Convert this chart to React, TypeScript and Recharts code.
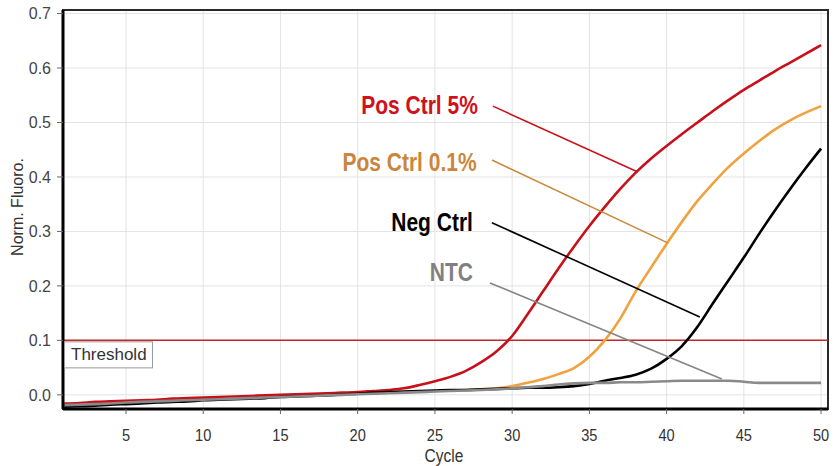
import React from 'react';
import {
  LineChart,
  Line,
  XAxis,
  YAxis,
  CartesianGrid,
  ReferenceLine,
  ReferenceDot,
  ReferenceArea,
} from 'recharts';

const cycles = [
  1, 2, 3, 4, 5, 6, 7, 8, 9, 10, 11, 12, 13, 14, 15, 16, 17, 18, 19, 20, 21, 22, 23, 24, 25,
  26, 27, 28, 29, 30, 31, 32, 33, 34, 35, 36, 37, 38, 39, 40, 41, 42, 43, 44, 45, 46, 47, 48, 49, 50,
];

const posCtrl5 = [
  -0.016, -0.015, -0.013, -0.012, -0.011, -0.01, -0.009, -0.007, -0.006, -0.005,
  -0.004, -0.003, -0.002, -0.001, 0.0, 0.001, 0.002, 0.003, 0.004, 0.005,
  0.007, 0.009, 0.012, 0.018, 0.025, 0.033, 0.044, 0.06, 0.08, 0.108,
  0.148, 0.19, 0.232, 0.272, 0.31, 0.345, 0.378, 0.408, 0.434, 0.457,
  0.479, 0.5, 0.521, 0.541, 0.56, 0.577, 0.594, 0.61, 0.626, 0.642,
];

const posCtrl01 = [
  -0.018, -0.017, -0.016, -0.014, -0.013, -0.012, -0.011, -0.01, -0.009, -0.008,
  -0.007, -0.006, -0.005, -0.004, -0.003, -0.002, -0.001, 0.0, 0.001, 0.002,
  0.003, 0.004, 0.005, 0.006, 0.007, 0.008, 0.009, 0.01, 0.012, 0.016,
  0.022, 0.029, 0.038, 0.049, 0.07, 0.1, 0.14, 0.19, 0.234, 0.277,
  0.318, 0.356, 0.388, 0.418, 0.443, 0.466, 0.487, 0.504, 0.518, 0.53,
];

const negCtrl = [
  -0.022, -0.021, -0.02, -0.018, -0.017, -0.016, -0.014, -0.013, -0.012, -0.01,
  -0.009, -0.008, -0.007, -0.006, -0.004, -0.003, -0.002, -0.001, 0.001, 0.002,
  0.004, 0.005, 0.006, 0.007, 0.008, 0.009, 0.009, 0.01, 0.011, 0.012,
  0.013, 0.013, 0.014, 0.016, 0.02, 0.026, 0.031, 0.037, 0.048, 0.066,
  0.09, 0.125, 0.168, 0.21, 0.252, 0.296, 0.338, 0.378, 0.416, 0.452,
];

const ntc = [
  -0.019, -0.018, -0.017, -0.016, -0.014, -0.013, -0.012, -0.011, -0.01, -0.009,
  -0.008, -0.007, -0.006, -0.005, -0.004, -0.003, -0.002, -0.001, 0.0, 0.001,
  0.002, 0.003, 0.004, 0.005, 0.006, 0.007, 0.008, 0.009, 0.01, 0.012,
  0.014, 0.016, 0.019, 0.021, 0.022, 0.022, 0.023, 0.023, 0.024, 0.025,
  0.026, 0.026, 0.026, 0.026, 0.024, 0.022, 0.022, 0.022, 0.022, 0.022,
];

const xTicks = [5, 10, 15, 20, 25, 30, 35, 40, 45, 50];
const yTicks = [0, 0.1, 0.2, 0.3, 0.4, 0.5, 0.6, 0.7];
const xDomain = [0.92, 50.45];
const yDomain = [-0.026, 0.7065];
const threshold = 0.1;

const annotationNames = ['Pos Ctrl 5%', 'Pos Ctrl 0.1%', 'Neg Ctrl', 'NTC'];
const annotationAnchors = [
  { x: 27.78, y: 0.532 },
  { x: 27.7, y: 0.4275 },
  { x: 27.46, y: 0.3174 },
  { x: 27.46, y: 0.2257 },
];
const leaderSegments = [
  [{ x: 28.75, y: 0.53 }, { x: 38.14, y: 0.409 }],
  [{ x: 28.69, y: 0.431 }, { x: 40.08, y: 0.279 }],
  [{ x: 28.69, y: 0.316 }, { x: 42.15, y: 0.143 }],
  [{ x: 28.56, y: 0.2055 }, { x: 43.58, y: 0.029 }],
];
const labelColors = ['#d0101a', '#c9863c', '#000000', '#808080'];
const leaderColors = ['#c8141c', '#c98a3c', '#000000', '#858585'];

const data = cycles.map((c, i) => ({
  cycle: c,
  pos5: posCtrl5[i],
  pos01: posCtrl01[i],
  neg: negCtrl[i],
  ntc: ntc[i],
}));

const FONT = "'Liberation Sans', Arial, sans-serif";

const XTick = (props: any) => {
  const { x, payload } = props;
  return (
    <text
      transform={`translate(${x},441) scale(0.86,1)`}
      textAnchor="middle"
      fontSize={17}
      fill="#333"
      fontFamily={FONT}
    >
      {payload.value}
    </text>
  );
};

const makeAnnotation = (text: string, color: string) => (props: any) => {
  const vb = props.viewBox || {};
  const x = vb.x ?? 0;
  const y = vb.y ?? 0;
  return (
    <text
      transform={`translate(${x},${y + 9}) scale(0.84,1)`}
      textAnchor="end"
      fontSize={25}
      fontWeight="bold"
      fill={color}
      fontFamily={FONT}
    >
      {text}
    </text>
  );
};

const ThresholdLabel = (props: any) => {
  const vb = props.viewBox || {};
  const x = vb.x ?? 0;
  const y = vb.y ?? 0;
  return (
    <g>
      <rect x={x + 1.5} y={y + 1.5} width={88} height={26} fill="#fff" stroke="#9a9a9a" strokeWidth={1} />
      <text x={x + 8} y={y + 20} fontSize={17} fill="#333" fontFamily={FONT}>
        Threshold
      </text>
    </g>
  );
};

const YTitle = () => (
  <text
    x={17}
    y={207}
    transform="rotate(-90,17,207)"
    textAnchor="middle"
    dominantBaseline="central"
    fontSize={16}
    fill="#333"
    fontFamily={FONT}
  >
    Norm. Fluoro.
  </text>
);

const XTitle = () => (
  <text
    transform="translate(444,462) scale(0.84,1)"
    textAnchor="middle"
    fontSize={18.5}
    fill="#333"
    fontFamily={FONT}
  >
    Cycle
  </text>
);

export default function App() {
  return (
    <div style={{ position: 'absolute', left: 0, top: 0, background: '#fff', fontFamily: FONT }}>
      <LineChart
        width={835}
        height={466}
        data={data}
        margin={{ top: 10, right: 7, bottom: 0, left: 0 }}
      >
        <CartesianGrid stroke="#e3e3e3" strokeWidth={1} />
        <XAxis
          dataKey="cycle"
          type="number"
          domain={xDomain}
          ticks={xTicks}
          allowDataOverflow
          height={57}
          tickSize={5}
          tick={<XTick />}
          tickLine={{ stroke: '#666' }}
          axisLine={{ stroke: '#000', strokeWidth: 3 }}
          label={<XTitle />}
        />
        <YAxis
          type="number"
          domain={yDomain}
          ticks={yTicks}
          allowDataOverflow
          width={63}
          tickSize={6}
          tickMargin={6}
          tickFormatter={(v: number) => v.toFixed(1)}
          tick={{ fontSize: 16, fill: '#444', fontFamily: FONT }}
          tickLine={{ stroke: '#666' }}
          axisLine={{ stroke: '#000', strokeWidth: 3 }}
          label={<YTitle />}
        />
        <ReferenceArea
          x1={xDomain[0]}
          x2={xDomain[1]}
          y1={yDomain[0]}
          y2={yDomain[1]}
          fill="none"
          stroke="#2a2a2a"
          strokeWidth={2}
          ifOverflow="visible"
        />
        <ReferenceLine y={threshold} stroke="#c0282a" strokeWidth={1.5} />
        <ReferenceDot
          x={xDomain[0]}
          y={threshold}
          r={0}
          fill="none"
          stroke="none"
          ifOverflow="visible"
          label={<ThresholdLabel />}
        />
        <Line type="monotone" dataKey="pos01" stroke="#f0a23e" strokeWidth={2.6} dot={false} isAnimationActive={false} />
        <Line type="monotone" dataKey="pos5" stroke="#c8101a" strokeWidth={2.6} dot={false} isAnimationActive={false} />
        <Line type="monotone" dataKey="neg" stroke="#000000" strokeWidth={2.6} dot={false} isAnimationActive={false} />
        <Line type="monotone" dataKey="ntc" stroke="#8a8a8a" strokeWidth={2.6} dot={false} isAnimationActive={false} />
        {leaderSegments.map((seg, i) => (
          <ReferenceLine
            key={`lead-${i}`}
            segment={seg}
            stroke={leaderColors[i]}
            strokeWidth={1.6}
            ifOverflow="visible"
          />
        ))}
        {annotationNames.map((name, i) => (
          <ReferenceDot
            key={`ann-${i}`}
            x={annotationAnchors[i].x}
            y={annotationAnchors[i].y}
            r={0}
            fill="none"
            stroke="none"
            ifOverflow="visible"
            label={makeAnnotation(name, labelColors[i])}
          />
        ))}
      </LineChart>
    </div>
  );
}
